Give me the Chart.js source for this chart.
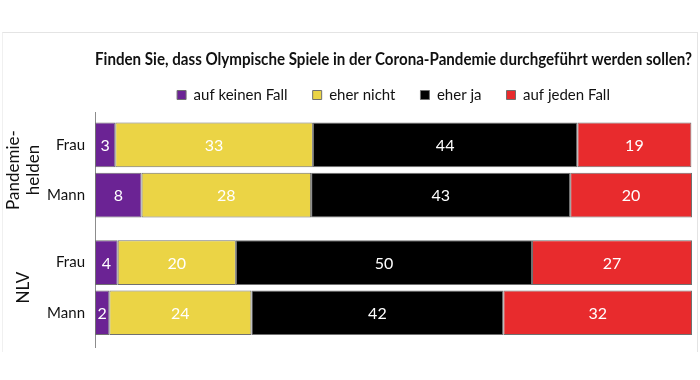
<!DOCTYPE html>
<html><head><meta charset="utf-8">
<script src="https://cdn.jsdelivr.net/npm/chart.js@4.4.1/dist/chart.umd.min.js"></script>
<style>
html,body{margin:0;padding:0;background:#fff;}
#wrap{position:relative;width:700px;height:380px;overflow:hidden;}
#panel{position:absolute;left:2px;top:32px;width:696px;height:320px;border-top:1px solid #e4e4e4;border-right:1px solid #e4e4e4;border-left:1px solid #f0f0f0;box-sizing:border-box;}
canvas{position:absolute;left:0;top:0;}
</style></head><body>
<div id="wrap"><div id="panel"></div><canvas id="c" width="700" height="380"></canvas></div>
<script>
const chartTitle = 'Finden Sie, dass Olympische Spiele in der Corona-Pandemie durchgeführt werden sollen?';
const groupTitles = [['Pandemie-', 'helden'], ['NLV']];
const rowLabels = ['Frau', 'Mann'];
const seriesNames = ['auf keinen Fall', 'eher nicht', 'eher ja', 'auf jeden Fall'];
const seriesColors = ['#6b2394', '#ebd445', '#000000', '#e82b2d'];
// rows: Pandemiehelden Frau, Pandemiehelden Mann, NLV Frau, NLV Mann (percent)
const aufKeinenFall = [3.4, 7.8, 3.8, 2.4];
const eherNicht = [33.1, 28.4, 19.8, 23.8];
const eherJa = [44.3, 43.4, 49.6, 42.2];
const aufJedenFall = [19.1, 20.4, 26.8, 31.6];
const seriesValues = [aufKeinenFall, eherNicht, eherJa, aufJedenFall];

const FONT = 'Lato';
const AXIS_W = 95;
const axisColor = '#8c8c8c';

const datasets = [];
[0, 1].forEach(g => {
  seriesValues.forEach((vals, s) => {
    datasets.push({
      label: seriesNames[s],
      data: vals.slice(g * 2, g * 2 + 2),
      backgroundColor: seriesColors[s],
      borderColor: '#707070',
      borderWidth: 1,
      borderSkipped: false,
      yAxisID: g === 0 ? 'y1' : 'y2',
      xAxisID: 'x',
      grouped: false,
      barPercentage: 0.89,
      categoryPercentage: 1
    });
  });
});

const fixW = s => { s.width = AXIS_W; };
const spacer = (weight, stackWeight) => ({
  type: 'linear', position: 'left', stack: 'rows', stackWeight, weight,
  min: 0, max: 1,
  ticks: { display: false },
  grid: { display: false, drawTicks: false },
  border: { display: true, color: axisColor, width: 1 },
  afterFit: fixW
});
const rowAxis = (weight, stackWeight, titleText, titlePad) => ({
  type: 'category', labels: rowLabels, position: 'left', stack: 'rows', stackWeight, weight,
  stacked: true,
  offset: true,
  grid: { display: false, drawTicks: false },
  border: { display: true, color: axisColor, width: 1 },
  ticks: { padding: 10, color: '#111', font: { family: FONT, size: 15 } },
  title: { display: true, text: titleText, color: '#111', font: { family: FONT, size: 17, lineHeight: 1.2 }, padding: { top: titlePad, bottom: 0 } },
  afterFit: fixW
});

const valueLabels = {
  id: 'valueLabels',
  afterDatasetsDraw(chart) {
    const ctx = chart.ctx;
    ctx.save();
    ctx.font = '16px ' + FONT;
    ctx.fillStyle = '#ffffff';
    ctx.textAlign = 'center';
    ctx.textBaseline = 'middle';
    chart.data.datasets.forEach((ds, i) => {
      const meta = chart.getDatasetMeta(i);
      meta.data.forEach((bar, j) => {
        const p = bar.getProps(['x', 'y', 'base'], true);
        ctx.fillText(String(Math.round(ds.data[j])), (p.x + p.base) / 2, p.y + 1);
      });
    });
    ctx.restore();
  }
};

new Chart(document.getElementById('c'), {
  type: 'bar',
  data: { labels: rowLabels, datasets },
  options: {
    indexAxis: 'y',
    responsive: false,
    animation: false,
    layout: { padding: { left: 0, right: 8, top: 0, bottom: 33 } },
    scales: {
      x: { type: 'linear', stacked: true, min: 0, max: 100, display: false },
      yTop: spacer(5, 7.2),
      y1: rowAxis(4, 100.4, groupTitles[0], 3),
      yGap: spacer(3, 17.2),
      y2: rowAxis(2, 100, groupTitles[1], 13),
      yBot: spacer(1, 9.2)
    },
    plugins: {
      title: {
        display: true, text: chartTitle, fullSize: false,
        color: '#111', font: { family: FONT, size: 16.5, weight: 'bold', lineHeight: 1.2 },
        padding: { top: 50, bottom: -7.3 }
      },
      legend: {
        display: true, position: 'top', fullSize: false,
        labels: {
          boxWidth: 9, boxHeight: 9, padding: 25, color: '#111',
          font: { family: FONT, size: 15 },
          filter: item => item.datasetIndex < 4
        }
      },
      tooltip: { enabled: false }
    }
  },
  plugins: [valueLabels]
});
</script>
</body></html>
